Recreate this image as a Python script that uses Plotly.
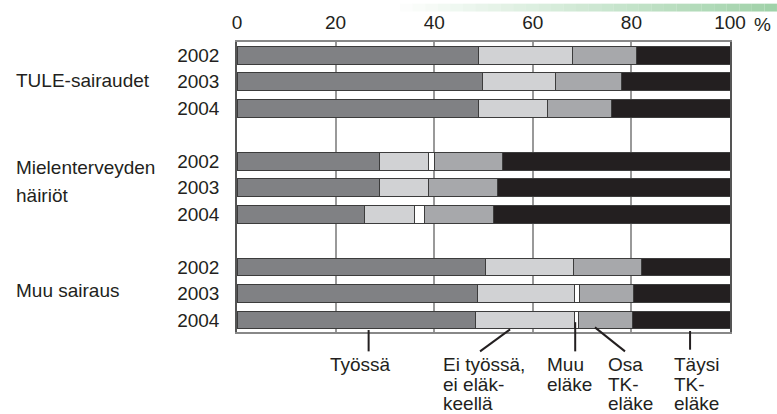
import plotly.graph_objects as go

# ---- data (percent shares) ----
years = ["2002", "2003", "2004", "2002", "2003", "2004", "2002", "2003", "2004"]
positions = [0, 1, 2, 4, 5, 6, 8, 9, 10]
groups = ["TULE-sairaudet", "Mielenterveyden häiriöt", "Muu sairaus"]

tyossa = [49.0, 49.8, 49.0, 28.9, 28.9, 25.9, 50.5, 48.8, 48.4]
ei_tyossa = [19.1, 14.9, 14.0, 9.9, 9.9, 10.1, 17.7, 19.7, 20.0]
muu_elake = [0.0, 0.0, 0.0, 1.2, 0.0, 2.0, 0.0, 0.9, 0.8]
osa_tk = [12.9, 13.2, 13.0, 13.8, 14.0, 14.0, 13.9, 11.0, 11.0]
taysi_tk = [19.0, 22.1, 24.0, 46.2, 47.2, 48.0, 17.9, 19.6, 19.8]

series_names = ["Työssä", "Ei työssä, ei eläkkeellä", "Muu eläke", "Osa TK-eläke", "Täysi TK-eläke"]
series_vals = [tyossa, ei_tyossa, muu_elake, osa_tk, taysi_tk]
series_colors = ["#808184", "#d1d2d4", "#ffffff", "#a7a8ab", "#231f20"]

x_ticks = [0, 20, 40, 60, 80, 100]
x_ticktext = ["0", "20", "40", "60", "80", "100"]

FONT = "Liberation Sans, Arial, sans-serif"
FS = 19
TXT = "#231f20"

fig = go.Figure()
for name, vals, col in zip(series_names, series_vals, series_colors):
    fig.add_trace(go.Bar(
        y=positions, x=vals, orientation="h", name=name,
        marker=dict(color=col, line=dict(color="#3c3c3c", width=1)),
        width=0.67, showlegend=False,
    ))

fig.update_layout(
    barmode="stack",
    width=777, height=414,
    margin=dict(l=237, r=47, t=37, b=82),
    paper_bgcolor="white", plot_bgcolor="white",
    font=dict(family=FONT, size=FS, color=TXT),
    xaxis=dict(
        side="top", range=[0, 100], tickvals=x_ticks, ticktext=x_ticktext,
        showgrid=True, gridcolor="#999999", gridwidth=1.5,
        showline=True, linecolor="#888888", linewidth=1.5, mirror=True,
        ticks="", ticklabelstandoff=4, zeroline=False,
        tickfont=dict(size=FS, color=TXT),
    ),
    yaxis=dict(
        range=[10.45, -0.5], tickvals=positions, ticktext=years,
        showgrid=False, zeroline=False,
        showline=True, linecolor="#555555", linewidth=1.5, mirror=True,
        ticks="", ticklabelstandoff=12,
        tickfont=dict(size=FS, color=TXT),
    ),
)

# darker 60 gridline
fig.add_shape(type="line", xref="x", yref="paper", x0=60, x1=60, y0=0, y1=1,
              line=dict(color="#333333", width=1.5), layer="below")

# "%" after 100
fig.add_annotation(text="%", xref="x", yref="paper", x=100, y=1.0, xanchor="left",
                   yanchor="bottom", xshift=22, yshift=5, showarrow=False,
                   font=dict(size=FS, color=TXT))

# group labels
def px_to_paper_y(py):
    return (332 - py) / 295.0

gx = (15 - 236.7) / 493.3
for text, py in [("TULE-sairaudet", 76), ("Mielenterveyden", 165),
                 ("häiriöt", 193), ("Muu sairaus", 290)]:
    fig.add_annotation(text=text, xref="paper", yref="paper", x=gx,
                       y=px_to_paper_y(py), xanchor="left", yanchor="middle",
                       showarrow=False, borderpad=0)

# callout lines
lines = [
    (26.7, 330, 26.7, 351.7),
    (55.4, 329.3, 49.3, 351.7),
    (68.6, 322, 68.6, 351.7),
    (72.6, 327.3, 78.7, 351.7),
    (91.9, 331, 91.9, 350),
]
for x0, y0, x1, y1 in lines:
    fig.add_shape(type="line", xref="x", yref="paper", x0=x0, x1=x1,
                  y0=px_to_paper_y(y0), y1=px_to_paper_y(y1),
                  line=dict(color=TXT, width=2))

# callout labels (each line separately for tight spacing)
line_py = [365, 385.5, 405]
labels = [
    (25.0, "center", ["Työssä"]),
    (41.6, "left", ["Ei työssä,", "ei eläk-", "keellä"]),
    (62.6, "left", ["Muu", "eläke"]),
    (75.0, "left", ["Osa", "TK-", "eläke"]),
    (88.5, "left", ["Täysi", "TK-", "eläke"]),
]
for x, anchor, rows in labels:
    for i, t in enumerate(rows):
        fig.add_annotation(text=t, xref="x", yref="paper", x=x, y=px_to_paper_y(line_py[i]),
                           xanchor=anchor, yanchor="middle", showarrow=False,
                           borderpad=0)

# decorative green band at top
n = 30
x_start = (400 - 236.7) / 493.3
x_end = (777 - 236.7) / 493.3
for i in range(n):
    a = x_start + (x_end - x_start) * i / n
    b = x_start + (x_end - x_start) * (i + 1) / n
    fig.add_shape(type="rect", xref="paper", yref="paper", x0=a, x1=b,
                  y0=px_to_paper_y(6), y1=px_to_paper_y(-2),
                  fillcolor="rgb(150,205,160)", opacity=0.9 * (i + 1) / n,
                  line=dict(width=0), layer="below")

fig.write_html("out.html", config={"displayModeBar": False},
               post_script="document.body.style.margin='0';document.body.style.overflow='hidden';")
